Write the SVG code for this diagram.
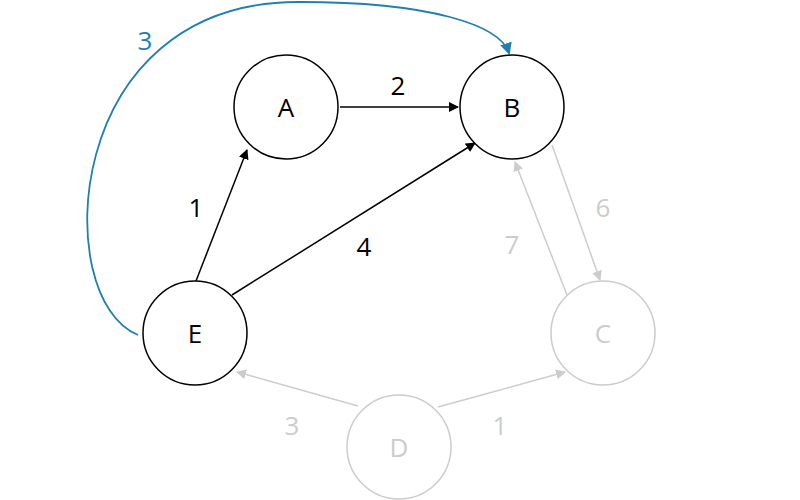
<svg xmlns="http://www.w3.org/2000/svg" width="800" height="500" viewBox="0 0 800 500">
<style>
text{font-family:"Open Sans",sans-serif;font-size:26px;text-anchor:middle;dominant-baseline:central}
.n circle{fill:#fff;stroke:#000;stroke-width:1.5}
.g circle{stroke:#ccc}
.g text{fill:#ccc}
.e{fill:none;stroke:#000;stroke-width:1.5}
.eg{fill:none;stroke:#ccc;stroke-width:1.5}
.lg{fill:#ccc}
</style>
<defs>
<marker id="ab" markerWidth="10" markerHeight="10" refX="9" refY="5" orient="auto" markerUnits="userSpaceOnUse" viewBox="0 0 10 10"><path d="M0,0L10,5L0,10z" fill="#000"/></marker>
<marker id="ag" markerWidth="10" markerHeight="10" refX="9" refY="5" orient="auto" markerUnits="userSpaceOnUse" viewBox="0 0 10 10"><path d="M0,0L10,5L0,10z" fill="#ccc"/></marker>
<marker id="au" markerWidth="12" markerHeight="12" refX="10" refY="6" orient="auto" markerUnits="userSpaceOnUse" viewBox="0 0 12 12"><path d="M0,0L12,6L0,12z" fill="#1f7fb0"/></marker>
</defs>
<g id="edges">
<path class="e" d="M340,107H458" marker-end="url(#ab)"/>
<path class="e" d="M196,281L247,150" marker-end="url(#ab)"/>
<path class="e" d="M232,295L475,143" marker-end="url(#ab)"/>
<path d="M138,335C50,300 60,0 300,2C430,2 500,25 509,53" fill="none" stroke="#1f7fb0" stroke-width="1.8" marker-end="url(#au)"/>
<path class="eg" d="M552,145L600,280" marker-end="url(#ag)"/>
<path class="eg" d="M567,295L515,162" marker-end="url(#ag)"/>
<path class="eg" d="M358,406L237,372" marker-end="url(#ag)"/>
<path class="eg" d="M438,407L565,372" marker-end="url(#ag)"/>
<text x="398" y="85">2</text>
<text x="196" y="207">1</text>
<text x="364" y="246">4</text>
<text x="145" y="40" fill="#1f7fb0">3</text>
<text class="lg" x="603" y="207">6</text>
<text class="lg" x="512" y="244">7</text>
<text class="lg" x="292" y="425">3</text>
<text class="lg" x="500" y="425">1</text>
</g>
<g id="A" class="n"><circle cx="286" cy="107" r="52"/><text x="286" y="107">A</text></g>
<g id="B" class="n"><circle cx="512" cy="107" r="52"/><text x="512" y="107">B</text></g>
<g id="E" class="n"><circle cx="195" cy="333" r="52"/><text x="195" y="333">E</text></g>
<g id="C" class="n g"><circle cx="603" cy="333" r="52"/><text x="603" y="333">C</text></g>
<g id="D" class="n g"><circle cx="399" cy="447" r="52"/><text x="399" y="447">D</text></g>
</svg>
